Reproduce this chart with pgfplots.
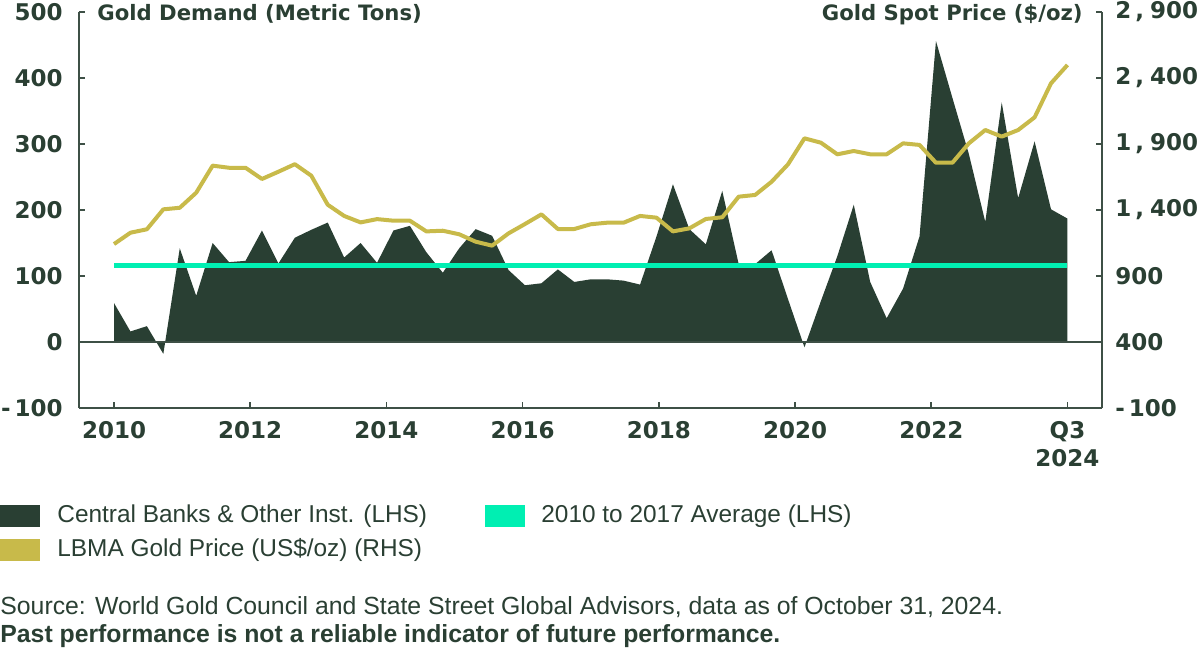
\documentclass[border=0pt]{standalone}
\usepackage{fontspec}
\setmainfont{Liberation Sans}
\newfontfamily\tickfont{DejaVu Sans}
\usepackage{pgfplots}
\pgfplotsset{compat=1.18}
\definecolor{dkgreen}{HTML}{293F33}
\definecolor{txtgreen}{HTML}{2A3F33}
\definecolor{goldc}{HTML}{C8BA4A}
\definecolor{mint}{HTML}{00EFB2}
\definecolor{axisc}{HTML}{3E5046}
\begin{document}
\begin{tikzpicture}
\path[use as bounding box] (0pt,0pt) rectangle (600pt,-326.5pt);
\begin{axis}[
  at={(39.5pt,-204pt)}, anchor=south west, scale only axis,
  width=511.5pt, height=198pt,
  xmin=-2.13, xmax=60.1, ymin=-100, ymax=500,
  axis x line*=bottom, axis y line*=left,
  axis line style={-, axisc, line width=0.8pt},
  tick align=inside, major tick length=3pt,
  tick style={axisc, line width=0.8pt},
  xtick={0,8.285714,16.571429,24.857143,33.142857,41.428571,49.714286,58},
  xticklabels={2010,2012,2014,2016,2018,2020,2022,{Q3\\2024}},
  ytick={-100,0,100,200,300,400,500},
  yticklabels={{-\hspace{2pt}100},0,100,200,300,400,500},
  xticklabel style={align=center, inner sep=0pt, yshift=-6.5pt, text=txtgreen, font=\tickfont\bfseries\fontsize{11.5}{14}\selectfont},
  yticklabel style={inner sep=0pt, xshift=-8pt, text=txtgreen, font=\tickfont\bfseries\fontsize{11.5}{14}\selectfont},
  clip=false,
]
\addplot[fill=dkgreen, draw=none] coordinates {
(0,59) (1,16) (2,24) (3,-18) (4,142) (5,70) (6,150) (7,121) (8,123) (9,169)
(10,119) (11,158) (12,170) (13,181) (14,128) (15,150) (16,120) (17,169) (18,176) (19,136)
(20,105) (21,142) (22,171) (23,161) (24,109) (25,86) (26,89) (27,110) (28,91) (29,95)
(30,95) (31,93) (32,87) (33,160) (34,239) (35,171) (36,148) (37,229) (38,118) (39,118)
(40,139) (41,65) (42,-8) (43,62) (44,130) (45,208) (46,91) (47,36) (48,81) (49,160)
(50,456) (51,370) (52,285) (53,182) (54,363) (55,218) (56,304) (57,201) (58,187)
} \closedcycle;
\addplot[axisc, line width=0.8pt] coordinates {(-2.13,0) (60.1,0)};
\addplot[mint, line width=2.2pt] coordinates {(0,116) (58,116)};
\end{axis}
\begin{axis}[
  at={(39.5pt,-204pt)}, anchor=south west, scale only axis,
  width=511.5pt, height=198pt,
  xmin=-2.13, xmax=60.1, ymin=-100, ymax=2900,
  axis x line=none, axis y line*=right,
  axis line style={-, axisc, line width=0.8pt},
  tick align=inside, major tick length=3pt,
  tick style={axisc, line width=0.8pt},
  ytick={-100,400,900,1400,1900,2400,2900},
  yticklabels={{-\hspace{2pt}100},400,900,{1\hspace{2pt},\hspace{3pt}400},{1\hspace{2pt},\hspace{3pt}900},{2\hspace{2pt},\hspace{3pt}400},{2\hspace{2pt},\hspace{3pt}900}},
  yticklabel style={inner sep=0pt, xshift=6.5pt, text=txtgreen, font=\tickfont\bfseries\fontsize{11.5}{14}\selectfont},
  clip=false,
]
\addplot[goldc, line width=2pt, line join=round] coordinates {
(0,1142) (1,1228) (2,1254) (3,1405) (4,1417) (5,1531) (6,1736) (7,1720) (8,1720) (9,1635)
(10,1690) (11,1747) (12,1660) (13,1440) (14,1355) (15,1306) (16,1331) (17,1319) (18,1319) (19,1238)
(20,1243) (21,1216) (22,1160) (23,1130) (24,1223) (25,1294) (26,1367) (27,1256) (28,1256) (29,1292)
(30,1304) (31,1304) (32,1355) (33,1342) (34,1238) (35,1261) (36,1332) (37,1345) (38,1501) (39,1514)
(40,1614) (41,1746) (42,1943) (43,1910) (44,1822) (45,1847) (46,1822) (47,1822) (48,1905) (49,1893)
(50,1758) (51,1758) (52,1905) (53,2006) (54,1956) (55,2006) (56,2102) (57,2360) (58,2499)
};
\end{axis}
\begin{scope}[x=1pt,y=1pt]
% titles
\node[anchor=base west, inner sep=0pt, text=txtgreen, font=\tickfont\bfseries\fontsize{10.6}{12}\selectfont] at (48.5,-10) {Gold Demand (Metric Tons)};
\node[anchor=base east, inner sep=0pt, text=txtgreen, font=\tickfont\bfseries\fontsize{10.6}{12}\selectfont] at (541.5,-10) {Gold Spot Price (\$/oz)};
% legend
\fill[dkgreen] (0,-252.5) rectangle (20,-263.5);
\node[anchor=west, inner sep=0pt, text=txtgreen, font=\fontsize{12.2}{14}\selectfont] at (28.5,-258) {Central Banks \& Other Inst. (LHS)};
\fill[mint] (242.5,-252.5) rectangle (262.5,-263.5);
\node[anchor=west, inner sep=0pt, text=txtgreen, font=\fontsize{12.2}{14}\selectfont] at (270.5,-258) {2010 to 2017 Average (LHS)};
\fill[goldc] (0,-269.5) rectangle (20,-280.5);
\node[anchor=west, inner sep=0pt, text=txtgreen, font=\fontsize{12.2}{14}\selectfont] at (28.5,-275) {LBMA Gold Price (US\$/oz) (RHS)};
% source
\node[anchor=base west, inner sep=0pt, text=txtgreen, font=\fontsize{12.4}{14}\selectfont] at (0,-307) {Source: World Gold Council and State Street Global Advisors, data as of October 31, 2024.};
\node[anchor=base west, inner sep=0pt, text=txtgreen, font=\bfseries\fontsize{12.4}{14}\selectfont] at (0,-321) {Past performance is not a reliable indicator of future performance.};
\end{scope}
\end{tikzpicture}
\end{document}
